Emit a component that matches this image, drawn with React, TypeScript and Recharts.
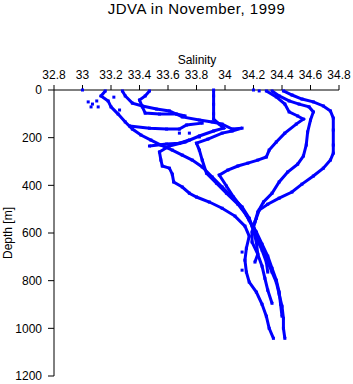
import { ScatterChart, Scatter, XAxis, YAxis } from "recharts";

const salinityTicks = [32.8, 33, 33.2, 33.4, 33.6, 33.8, 34, 34.2, 34.4, 34.6, 34.8];
const depthTicks = [0, 200, 400, 600, 800, 1000, 1200];

// each cast: [salinity, depth m]
const castOuter = [
  [34.41, 4], [34.47, 21], [34.54, 38], [34.62, 50], [34.69, 67], [34.74, 88], [34.76, 118],
  [34.76, 168], [34.76, 231], [34.76, 265], [34.74, 294], [34.69, 328], [34.62, 361], [34.54, 395],
  [34.47, 428], [34.38, 454], [34.3, 479], [34.24, 504], [34.22, 538], [34.2, 571], [34.22, 605],
  [34.24, 638], [34.27, 680], [34.3, 722], [34.33, 764], [34.36, 806], [34.38, 857], [34.4, 907],
  [34.41, 958], [34.41, 1000], [34.42, 1042]
];
const castMiddle = [
  [34.33, 4], [34.38, 25], [34.45, 46], [34.52, 59], [34.59, 71], [34.62, 92], [34.6, 126],
  [34.58, 176], [34.57, 231], [34.55, 277], [34.51, 311], [34.44, 344], [34.38, 386], [34.33, 433],
  [34.27, 470], [34.23, 512], [34.21, 554], [34.19, 596], [34.19, 638], [34.23, 689], [34.26, 739],
  [34.28, 790], [34.3, 840], [34.33, 895]
];
const castInner = [
  [34.29, 4], [34.36, 29], [34.42, 59], [34.45, 92], [34.51, 109], [34.55, 122], [34.5, 143],
  [34.42, 181], [34.36, 218], [34.31, 252], [34.29, 281], [34.23, 294], [34.16, 307], [34.09, 319],
  [34.02, 336], [33.96, 357], [34.01, 403], [34.06, 449], [34.12, 496], [34.17, 546], [34.22, 596],
  [34.26, 647], [34.3, 697], [34.33, 748], [34.36, 798], [34.38, 848], [34.39, 899], [34.4, 949]
];
const castFlat = [
  [33.92, 0], [33.92, 25], [33.92, 60], [33.92, 100], [33.92, 122], [33.96, 143], [33.99, 160],
  [33.92, 172], [33.82, 193], [33.72, 218], [33.61, 235], [33.54, 260], [33.55, 294], [33.56, 319],
  [33.61, 328], [33.63, 353], [33.64, 386], [33.7, 407], [33.75, 433], [33.8, 449], [33.89, 470],
  [33.98, 496], [34.07, 529], [34.14, 571], [34.17, 613], [34.15, 664], [34.14, 714], [34.15, 764],
  [34.17, 806], [34.22, 848], [34.26, 899], [34.29, 949], [34.31, 1000], [34.34, 1042]
];
const castFresh = [
  [33.16, 4], [33.13, 25], [33.18, 46], [33.2, 71], [33.25, 101], [33.3, 134], [33.35, 164],
  [33.41, 189], [33.48, 210], [33.55, 231], [33.63, 252], [33.7, 273], [33.77, 294], [33.84, 323],
  [33.91, 365], [33.98, 407], [34.05, 449], [34.12, 491], [34.17, 538], [34.2, 588], [34.22, 638],
  [34.23, 689], [34.21, 722]
];
const castShelf = [
  [33.28, 4], [33.3, 25], [33.35, 55], [33.42, 67], [33.52, 80], [33.61, 88], [33.7, 113],
  [33.82, 126], [33.91, 134], [33.98, 143], [34.05, 164], [34.12, 160], [34.05, 172], [33.98, 181],
  [33.88, 206], [33.8, 223], [33.82, 252], [33.84, 294], [33.87, 349], [33.94, 391], [34.01, 433],
  [34.09, 479], [34.15, 525], [34.19, 571], [34.22, 622], [34.26, 672], [34.29, 722], [34.3, 764]
];
const fragA = [[33.47, 4], [33.44, 25], [33.4, 42], [33.42, 71], [33.44, 97], [33.54, 101], [33.66, 101], [33.72, 109]];
const fragB = [[33.33, 151], [33.47, 160], [33.59, 164], [33.68, 164], [33.73, 147], [33.84, 139]];
const fragC = [[33.47, 235], [33.59, 227], [33.68, 223], [33.75, 210]];
const strayPoints = [
  [33.0, 0], [33.04, 50], [33.06, 71], [33.11, 71], [33.1, 46], [33.07, 59], [34.2, 0], [34.24, 4],
  [33.68, 181], [33.75, 181], [33.82, 197], [34.12, 680], [34.12, 756], [33.22, 30], [33.26, 84]
];

const casts = [castOuter, castMiddle, castInner, castFlat, castFresh, castShelf, fragA, fragB, fragC];

const toRows = (pts: number[][]) => pts.map(([s, d]) => ({ s, d }));

const BLUE = "#0000ff";
const FONT = "'Liberation Sans', Arial, sans-serif";

const square = (p: any) => (
  <rect x={p.cx - 1.5} y={p.cy - 1.5} width={3} height={3} fill={BLUE} />
);

export default function App() {
  return (
    <div style={{ position: "absolute", left: 0, top: 0, width: 353, height: 384, background: "#fff" }}>
      <ScatterChart width={353} height={384} margin={{ top: 70, right: 14, bottom: 8, left: 24 }}>
        <XAxis
          dataKey="s"
          type="number"
          orientation="top"
          domain={[32.8, 34.8]}
          ticks={salinityTicks}
          height={20}
          tickSize={5}
          tickMargin={6}
          interval={0}
          stroke="#000"
          tick={{ fill: "#000", fontSize: 12, fontFamily: FONT }}
        />
        <YAxis
          dataKey="d"
          type="number"
          reversed
          domain={[0, 1200]}
          ticks={depthTicks}
          width={30}
          tickSize={6}
          tickMargin={6}
          interval={0}
          stroke="#000"
          tick={{ fill: "#000", fontSize: 12, fontFamily: FONT }}
        />
        {casts.map((c, i) => (
          <Scatter
            key={i}
            data={toRows(c)}
            fill={BLUE}
            line={{ stroke: BLUE, strokeWidth: 3 }}
            shape={square}
            isAnimationActive={false}
          />
        ))}
        <Scatter data={toRows(strayPoints)} fill={BLUE} shape={square} isAnimationActive={false} />
      </ScatterChart>
      <svg width={353} height={384} style={{ position: "absolute", left: 0, top: 0, pointerEvents: "none" }}>
        <text x={196.5} y={14} textAnchor="middle" fontSize={15} letterSpacing={0.5} fontFamily={FONT} fill="#000">
          JDVA in November, 1999
        </text>
        <text x={197} y={64} textAnchor="middle" fontSize={12} fontFamily={FONT} fill="#000">
          Salinity
        </text>
        <text x={12} y={233} textAnchor="middle" fontSize={12} fontFamily={FONT} fill="#000" transform="rotate(-90 12 233)">
          Depth [m]
        </text>
      </svg>
    </div>
  );
}
